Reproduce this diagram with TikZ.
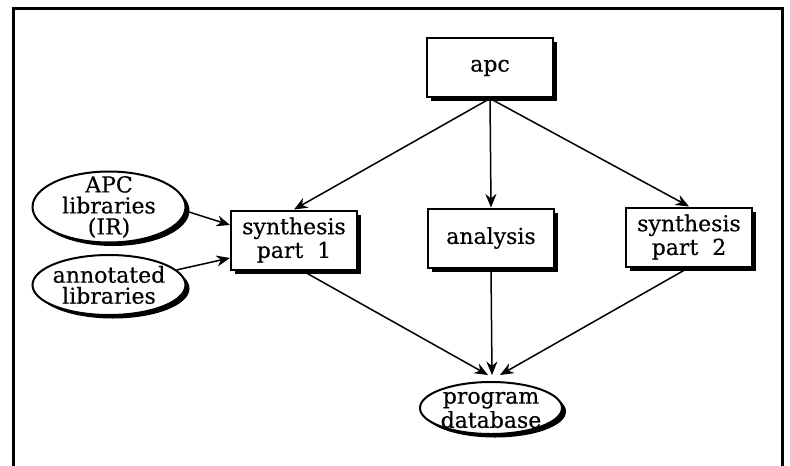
\documentclass[tikz,border=0pt]{standalone}
\usepackage{fontspec}
\setmainfont{DejaVu Serif}[UprightFeatures={FakeBold=0.4}]
\usetikzlibrary{shapes.geometric,shadows,arrows.meta,calc}
\begin{document}
\begin{tikzpicture}[x=0.4pt,y=-0.4pt,
  lbl/.style={font=\fontsize{8.8}{8.4}\selectfont, align=center, inner sep=0pt},
  blk/.style={draw, line width=0.8pt, fill=white, minimum width=50.4pt, minimum height=23.6pt,
    inner sep=0pt, font=\fontsize{8.8}{8.2}\selectfont, align=center,
    drop shadow={fill=black, opacity=1, shadow xshift=1.6pt, shadow yshift=-1.6pt}},
  oval/.style={ellipse, draw, line width=0.8pt, fill=white, inner sep=0pt,
    drop shadow={fill=black, opacity=1, shadow xshift=1.6pt, shadow yshift=-1.4pt}},
  flow/.style={line width=0.6pt, -{Stealth[length=5.4pt, width=4.4pt]}}]
\useasboundingbox (0,0) rectangle (790,465);
\begin{scope}
\clip (0,0) rectangle (790,465);
% open frame round the figure
\draw[line width=1.2pt] (13,480) -- (13,9) -- (782,9) -- (782,480);
\end{scope}

% process boxes
\node[blk] (apc)  at (490,68)  {apc};
\node[blk] (syn1) at (294,240) {synthesis\\part~~1};
\node[blk] (ana)  at (491,238) {analysis};
\node[blk] (syn2) at (689,237) {synthesis\\part~~2};

% data stores
\node[oval, minimum width=61.2pt, minimum height=28.4pt] (lib) at (109,207) {};
\node[lbl] at (lib) {APC\\libraries\\(IR)};
\node[oval, minimum width=61.2pt, minimum height=24pt] (ann) at (109,285) {};
\node[lbl] at (ann) {annotated\\libraries};
\node[oval, minimum width=56.8pt, minimum height=20.8pt] (db) at (491,408) {};
\node[lbl, font=\fontsize{8.8}{7.6}\selectfont] at ($(db)+(0,2)$) {program\\database};

% arrow ends
\coordinate (s1a) at ($(syn1.west)+(0,-15)$);
\coordinate (s1b) at ($(syn1.west)+(0,18)$);
\coordinate (t1) at (488,375);
\coordinate (t2) at (492,375);
\coordinate (t3) at (500,375);

% connectors
\draw[flow] (apc.south) -- (syn1.north);
\draw[flow] (apc.south) -- (ana.north);
\draw[flow] (apc.south) -- (syn2.north);
\draw[flow] (lib.-3) -- (s1a);
\draw[flow] (ann) -- (s1b);
\draw[flow] ($(syn1.south)+(8,0)$) -- (t1);
\draw[flow] (ana.south) -- (t2);
\draw[flow] (syn2.south) -- (t3);
\end{tikzpicture}
\end{document}
